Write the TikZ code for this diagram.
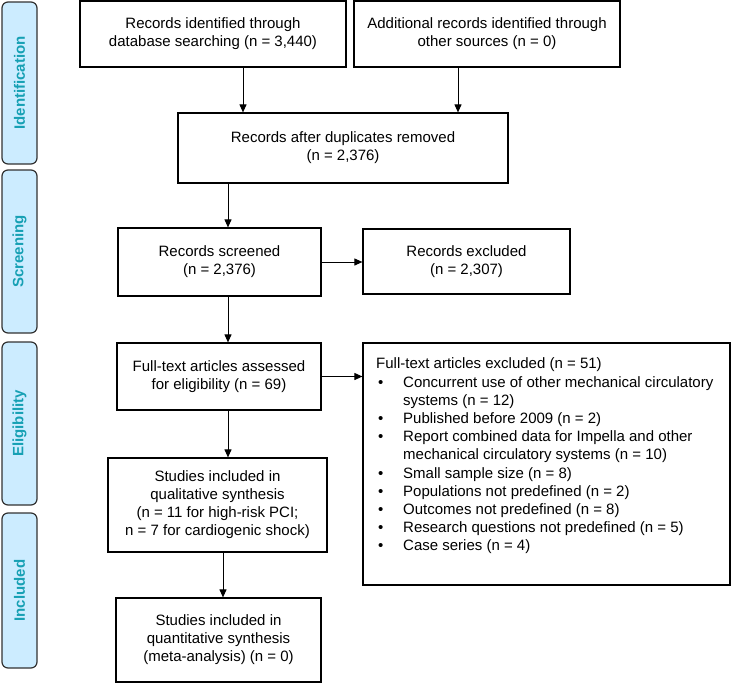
\documentclass[tikz,border=0pt]{standalone}
\usepackage{fontspec}
\setmainfont{Liberation Sans}
\usetikzlibrary{arrows.meta}
\definecolor{labfill}{RGB}{204,236,255}
\definecolor{labtext}{RGB}{22,160,180}
\definecolor{labedge}{RGB}{50,50,50}
\tikzset{
  box/.style={draw=black, line width=1.2pt, inner sep=0pt, align=center,
    font=\fontsize{15}{18}\selectfont},
  phase/.style={draw=labedge, fill=labfill, line width=1.2pt, rounded corners=6pt,
    minimum width=35pt, inner sep=0pt},
  phasetext/.style={rotate=90, text=labtext, font=\fontsize{15}{18}\selectfont\bfseries},
  arr/.style={draw=black, line width=1pt, -{Triangle[length=8pt,width=7pt]}}
}
\begin{document}
\begin{tikzpicture}[x=1pt, y={(0pt,-1pt)}]
\useasboundingbox (0,0) rectangle (731,683);
% phase labels
\node[phase, minimum height=162pt] (p1) at (19.5,83) {};
\node[phasetext] (p1t) at (p1.center) {Identification};
\node[phase, minimum height=163pt] (p2) at (19.5,251.5) {};
\node[phasetext] (p2t) at (p2.center) {Screening};
\node[phase, minimum height=163pt] (p3) at (19.5,423.5) {};
\node[phasetext] (p3t) at (p3.center) {Eligibility};
\node[phase, minimum height=155pt] (p4) at (19.5,590.5) {};
\node[phasetext] (p4t) at (p4.center) {Included};
% boxes
\node[box, minimum width=266pt, minimum height=66pt] (b1) at (213,34) {Records identified through\\database searching (n = 3,440)};
\node[box, minimum width=266pt, minimum height=66pt] (b2) at (487,34) {Additional records identified through\\other sources (n = 0)};
\node[box, minimum width=330pt, minimum height=70pt] (b3) at (343,148) {Records after duplicates removed\\(n = 2,376)};
\node[box, minimum width=203pt, minimum height=68pt] (b4) at (219.5,262) {Records screened\\(n = 2,376)};
\node[box, minimum width=207pt, minimum height=65pt] (b5) at (466.5,261.5) {Records excluded\\(n = 2,307)};
\node[box, minimum width=204pt, minimum height=67pt] (b6) at (219,376.5) {Full-text articles assessed\\for eligibility (n = 69)};
\node[box, minimum width=367pt, minimum height=242pt] (b7) at (546.5,464) {};
\node[anchor=north west, inner sep=0pt, font=\fontsize{15}{18.2}\selectfont] (b7t) at (376,356)
{\begin{tabular}{@{}p{27pt}@{}l@{}}
\multicolumn{2}{@{}l@{}}{Full-text articles excluded (n = 51)}\\
\hspace{2pt}• & Concurrent use of other mechanical circulatory\\
 & systems (n = 12)\\
\hspace{2pt}• & Published before 2009 (n = 2)\\
\hspace{2pt}• & Report combined data for Impella and other\\
 & mechanical circulatory systems (n = 10)\\
\hspace{2pt}• & Small sample size (n = 8)\\
\hspace{2pt}• & Populations not predefined (n = 2)\\
\hspace{2pt}• & Outcomes not predefined (n = 8)\\
\hspace{2pt}• & Research questions not predefined (n = 5)\\
\hspace{2pt}• & Case series (n = 4)
\end{tabular}};
\node[box, minimum width=219pt, minimum height=94pt] (b8) at (217.5,505) {Studies included in\\qualitative synthesis\\(n = 11 for high-risk PCI;\\n = 7 for cardiogenic shock)};
\node[box, minimum width=205pt, minimum height=84pt] (b9) at (218.5,640) {Studies included in\\quantitative synthesis\\(meta-analysis) (n = 0)};
% connectors
\draw[arr] ([xshift=30pt]b1.south) -- ([xshift=30pt]b1.south |- b3.north);
\draw[arr] ([xshift=-29pt]b2.south) -- ([xshift=-29pt]b2.south |- b3.north);
\draw[arr] ([xshift=8.5pt]b4.north |- b3.south) -- ([xshift=8.5pt]b4.north);
\draw[arr] (b4.east) -- (b5.west |- b4.east);
\draw[arr] ([xshift=8.5pt]b4.south) -- ([xshift=8.5pt]b4.south |- b6.north);
\draw[arr] (b6.east) -- (b7.west |- b6.east);
\draw[arr] ([xshift=9pt]b6.south) -- ([xshift=9pt]b6.south |- b8.north);
\draw[arr] ([xshift=5.5pt]b8.south) -- ([xshift=5.5pt]b8.south |- b9.north);
\end{tikzpicture}
\end{document}
